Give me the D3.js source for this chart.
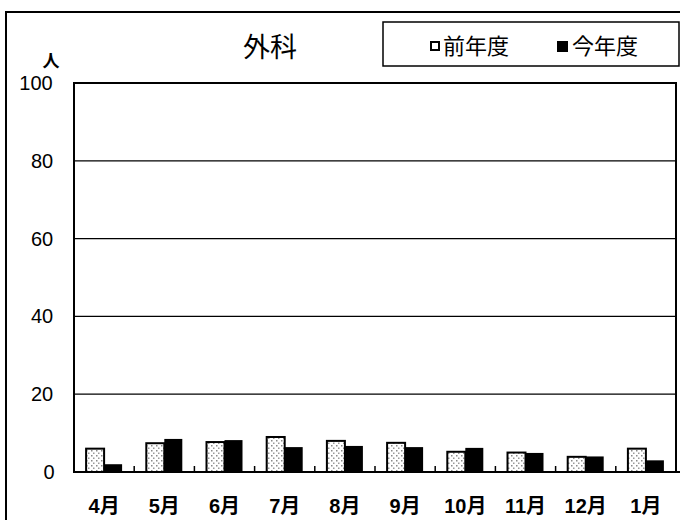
<!DOCTYPE html>
<html lang="ja">
<head>
<meta charset="utf-8">
<title>外科</title>
<script src="https://cdn.jsdelivr.net/npm/d3@7"></script>
<style>
  body { margin: 0; background: #fff; }
  text { font-family: "Liberation Sans", "Noto Sans CJK JP", sans-serif; fill: #000; }
</style>
</head>
<body>
<div id="chart"></div>
<script>
// data
const months = ["4月", "5月", "6月", "7月", "8月", "9月", "10月", "11月", "12月", "1月"]
const prevYear = [6, 7.4, 7.7, 9, 8, 7.5, 5.2, 5, 3.9, 6]
const thisYear = [2, 8.5, 8.2, 6.4, 6.7, 6.4, 6.2, 4.9, 4, 3]
const yTicks = [0, 20, 40, 60, 80, 100]
const seriesNames = ["前年度", "今年度"]

const width = 680
const height = 520
const plotLeft = 74, plotRight = 676, plotTop = 83, plotBottom = 472

const svg = d3.select("#chart").append("svg")
  .attr("width", width).attr("height", height)

// dotted fill for last year's bars
let defs = svg.append("defs")
let pat = defs.append("pattern")
  .attr("id", "dots").attr("patternUnits", "userSpaceOnUse")
  .attr("width", 5).attr("height", 5)
pat.append("rect").attr("width", 5).attr("height", 5).attr("fill", "#fff")
pat.append("rect").attr("x", 1).attr("y", 0).attr("width", 1.5).attr("height", 1.5).attr("fill", "#888")
pat.append("rect").attr("x", 3).attr("y", 2.5).attr("width", 1.5).attr("height", 1.5).attr("fill", "#999")

// outer frame
svg.append("path")
  .attr("d", "M6,520 L6,12 L682,12")
  .attr("fill", "none").attr("stroke", "#000").attr("stroke-width", 2)

let x = d3.scaleBand().domain(months).range([plotLeft, plotRight]).paddingInner(0).paddingOuter(0)
let y = d3.scaleLinear().domain([0, 100]).range([plotBottom, plotTop])

// gridlines
svg.append("g")
  .selectAll("line")
  .data(yTicks.filter(d => d > 0 && d < 100))
  .enter().append("line")
  .attr("x1", plotLeft).attr("x2", plotRight)
  .attr("y1", d => y(d)).attr("y2", d => y(d))
  .attr("stroke", "#000").attr("stroke-width", 1.2)

// y labels
svg.append("g")
  .selectAll("text")
  .data(yTicks)
  .enter().append("text")
  .attr("x", d => d == 100 ? 36 : (d == 0 ? 49 : 42))
  .attr("y", d => y(d) + 7)
  .attr("text-anchor", "middle")
  .attr("font-size", 20)
  .text(d => d)

svg.append("text")
  .attr("x", 51).attr("y", 67)
  .attr("text-anchor", "middle")
  .attr("font-size", 17)
  .attr("font-weight", "bold")
  .attr("font-family", "Noto Sans CJK JP")
  .text("人")

// bars
const barW = 18
const pad = (x.bandwidth() - 2 * barW) / 2

svg.append("g")
  .selectAll("rect")
  .data(months)
  .enter().append("rect")
  .attr("x", d => x(d) + pad)
  .attr("y", (d, i) => y(prevYear[i]))
  .attr("width", barW)
  .attr("height", (d, i) => y(0) - y(prevYear[i]))
  .attr("fill", "url(#dots)")
  .attr("stroke", "#000").attr("stroke-width", 2)

svg.append("g")
  .selectAll("rect")
  .data(months)
  .enter().append("rect")
  .attr("x", d => x(d) + pad + barW)
  .attr("y", (d, i) => y(thisYear[i]))
  .attr("width", barW)
  .attr("height", (d, i) => y(0) - y(thisYear[i]))
  .attr("fill", "#000")

// plot box
svg.append("rect")
  .attr("x", plotLeft).attr("y", plotTop)
  .attr("width", plotRight - plotLeft).attr("height", plotBottom - plotTop)
  .attr("fill", "none").attr("stroke", "#000").attr("stroke-width", 2)

svg.append("line")
  .attr("x1", plotRight).attr("x2", 682)
  .attr("y1", plotBottom).attr("y2", plotBottom)
  .attr("stroke", "#000").attr("stroke-width", 2)

// x axis: small inner ticks between months
let xAxis = svg.append("g")
xAxis.selectAll("line")
  .data(months.slice(1))
  .enter().append("line")
  .attr("x1", d => x(d)).attr("x2", d => x(d))
  .attr("y1", plotBottom).attr("y2", plotBottom - 6)
  .attr("stroke", "#000").attr("stroke-width", 1.5)

xAxis.selectAll("text")
  .data(months)
  .enter().append("text")
  .attr("x", d => x(d) + x.bandwidth() / 2)
  .attr("y", 513)
  .attr("text-anchor", "middle")
  .attr("font-size", 20)
  .attr("font-weight", "bold")
  .text(d => d)

// title
svg.append("text")
  .attr("x", 270).attr("y", 57)
  .attr("text-anchor", "middle")
  .attr("font-size", 27)
  .attr("font-family", "Noto Sans CJK JP")
  .text("外科")

// legend
svg.append("rect")
  .attr("x", 383).attr("y", 22)
  .attr("width", 296).attr("height", 44)
  .attr("fill", "#fff").attr("stroke", "#000").attr("stroke-width", 1.5)

let legend = svg.append("g")
let legX = [430, 557]
legend.selectAll("rect")
  .data(seriesNames)
  .enter().append("rect")
  .attr("x", (d, i) => legX[i] + (i == 0 ? 1 : 0))
  .attr("y", (d, i) => i == 0 ? 42 : 41)
  .attr("width", (d, i) => i == 0 ? 8 : 11)
  .attr("height", (d, i) => i == 0 ? 8 : 11)
  .attr("fill", (d, i) => i == 0 ? "#fff" : "#000")
  .attr("stroke", "#000").attr("stroke-width", (d, i) => i == 0 ? 2 : 0)

legend.selectAll("text")
  .data(seriesNames)
  .enter().append("text")
  .attr("x", (d, i) => legX[i] + (i == 0 ? 13 : 15))
  .attr("y", 54)
  .attr("font-size", 22)
  .attr("font-family", "Noto Sans CJK JP")
  .text(d => d)
</script>
</body>
</html>
